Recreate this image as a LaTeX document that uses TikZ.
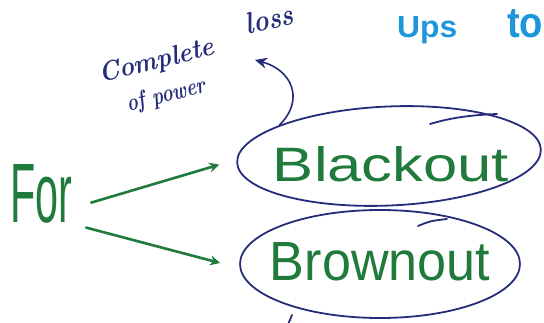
\documentclass[tikz,border=0pt]{standalone}
\usepackage{fontspec}
\setsansfont{Liberation Sans}
\usetikzlibrary{arrows.meta,shapes.geometric}
\definecolor{inkgreen}{HTML}{1F7A3C}
\definecolor{inknavy}{HTML}{252C7A}
\definecolor{inkblue}{HTML}{1E96DC}
\begin{document}
\begin{tikzpicture}[x=1pt,y=-1pt,
  bubble/.style={draw=inknavy,line width=1.8pt,ellipse,inner sep=0pt},
  pen/.style={draw=inknavy,line width=1.8pt,line cap=round},
  gword/.style={text=inkgreen,inner sep=0pt,font=\sffamily},
  nword/.style={text=inknavy,inner sep=0pt,font=\bfseries\itshape},
  bword/.style={text=inkblue,inner sep=0pt,font=\sffamily\bfseries},
  garrow/.style={draw=inkgreen,line width=2.6pt,line cap=round,-{Stealth[length=10pt,width=10pt]}},
  narrow/.style={draw=inknavy,line width=1.6pt,line cap=round,-{Stealth[length=12pt,width=11pt]}}]
\useasboundingbox (0,0) rectangle (544,323);
\fill[white] (0,0) rectangle (544,323);

% the two bubbles
\node[bubble,minimum width=304pt,minimum height=99pt,rotate=2.5] (e1) at (389,156) {};
\node[bubble,minimum width=280pt,minimum height=108pt] (e2) at (380,264) {};

% overlapping pen strokes where each bubble was closed
\draw[pen] (430,124) .. controls (450,118) and (470,115) .. (497,114);
\draw[pen] (418,226) .. controls (430,221) .. (447,219);
\coordinate (tailtop) at (292,315);
\coordinate (tailend) at (287,327);
\draw[pen] (tailtop) -- (tailend);

% words
\node[gword] (t1) at (391,164) {\resizebox{236pt}{35pt}{Blackout}};
\node[gword] (t2) at (380,262) {\resizebox{220pt}{38pt}{Brownout}};
\node[gword] (for) at (41,194) {\resizebox{62pt}{58pt}{For}};

\node[nword,rotate=14] (complete) at (157,62) {\resizebox{118pt}{19pt}{Complete}};
\node[nword,rotate=12] (loss) at (269,19) {\resizebox{48pt}{21pt}{loss}};
\node[nword,rotate=14] (ofpower) at (166,96) {\resizebox{80pt}{17pt}{of power}};

\node[bword,anchor=base west] (ups) at (397,38) {\resizebox{60pt}{21pt}{Ups}};
\node[bword,anchor=base west] (to) at (507,38) {\resizebox{36pt}{28pt}{to}};

% connectors
\draw[garrow] ([shift={(19,-21)}]for.south east) -- ([shift={(-17,2)}]e1.west);
\draw[garrow] ([shift={(14,4)}]for.south east) -- ([shift={(-19,-1)}]e2.west);
\draw[narrow] (e1.north west) .. controls (305,100) and (292,70) .. (255,60);
\end{tikzpicture}
\end{document}
